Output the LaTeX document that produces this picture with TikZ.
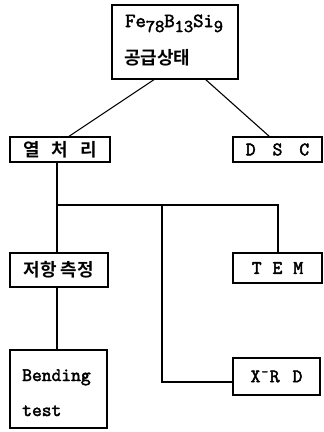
\documentclass[tikz,border=0pt]{standalone}
\usepackage{fontspec}
\setmainfont{Latin Modern Mono}[AutoFakeBold=2.5]
\newfontfamily\kr{Noto Sans CJK KR}[BoldFont={* Bold}]
\newcommand{\subx}[1]{\raisebox{-5pt}{\fontsize{18}{18}\selectfont #1}}
\begin{document}
\begin{tikzpicture}[x=1pt,y=-1pt,
  box/.style={draw,line width=1.1pt,inner sep=0pt,font=\fontsize{19}{20}\selectfont\bfseries},
  krf/.style={font=\kr\bfseries\fontsize{18}{20}\selectfont},
  conn/.style={line width=1.1pt}]
\useasboundingbox (0,0) rectangle (324,432);
\node[box,minimum width=126pt,minimum height=74pt] (top) at (175,42) {};
\node[anchor=base west,inner sep=0pt,font=\fontsize{20}{20}\selectfont\bfseries] (ttl) at (125,27) {Fe\subx{78}B\subx{13}Si\subx{9}};
\node[anchor=base west,inner sep=0pt,krf] (ttl2) at (124,64) {공급상태};
\node[box,minimum width=100pt,minimum height=25pt,krf] (yeol) at (60,149.5) {열\hspace{12pt}처\hspace{12pt}리};
\node[box,minimum width=89pt,minimum height=25pt] (dsc) at (277.5,149.5) {D\hspace{17pt}S\hspace{17pt}C};
\node[box,minimum width=98pt,minimum height=34pt,krf] (jeo) at (59,270) {저항\hspace{4pt}측정};
\node[box,minimum width=89pt,minimum height=30pt] (tem) at (277.5,268) {T\hspace{11pt}E\hspace{11pt}M};
\node[box,minimum width=97pt,minimum height=78pt] (bend) at (58.5,389) {};
\node[anchor=base west,inner sep=0pt,font=\fontsize{19}{20}\selectfont\bfseries] (b1) at (22,381) {Bending};
\node[anchor=base west,inner sep=0pt,font=\fontsize{19}{20}\selectfont\bfseries] (b2) at (22,416) {test};
\node[box,minimum width=87pt,minimum height=37pt] (xrd) at (276.5,376.5) {X\hspace{1pt}\textsuperscript{-}\hspace{1pt}R\hspace{13pt}D};
\coordinate (t1) at (155,79);
\coordinate (t2) at (205,79);
\coordinate (y1) at (68,137);
\coordinate (d1) at (270,137);
\coordinate (j1) at (57,205);
\coordinate (j2) at (162,205);
\coordinate (j3) at (278,205);
\coordinate (k) at (162,382);
\draw[conn] (t1) -- (y1);
\draw[conn] (t2) -- (d1);
\draw[conn] (yeol.south -| j1) -- (jeo.north -| j1);
\draw[conn] (jeo.south -| j1) -- (bend.north -| j1);
\draw[conn] (j1) -- (j3) -- (tem.north -| j3);
\draw[conn] (j2) -- (k) -- (xrd.west |- k);
\end{tikzpicture}
\end{document}
